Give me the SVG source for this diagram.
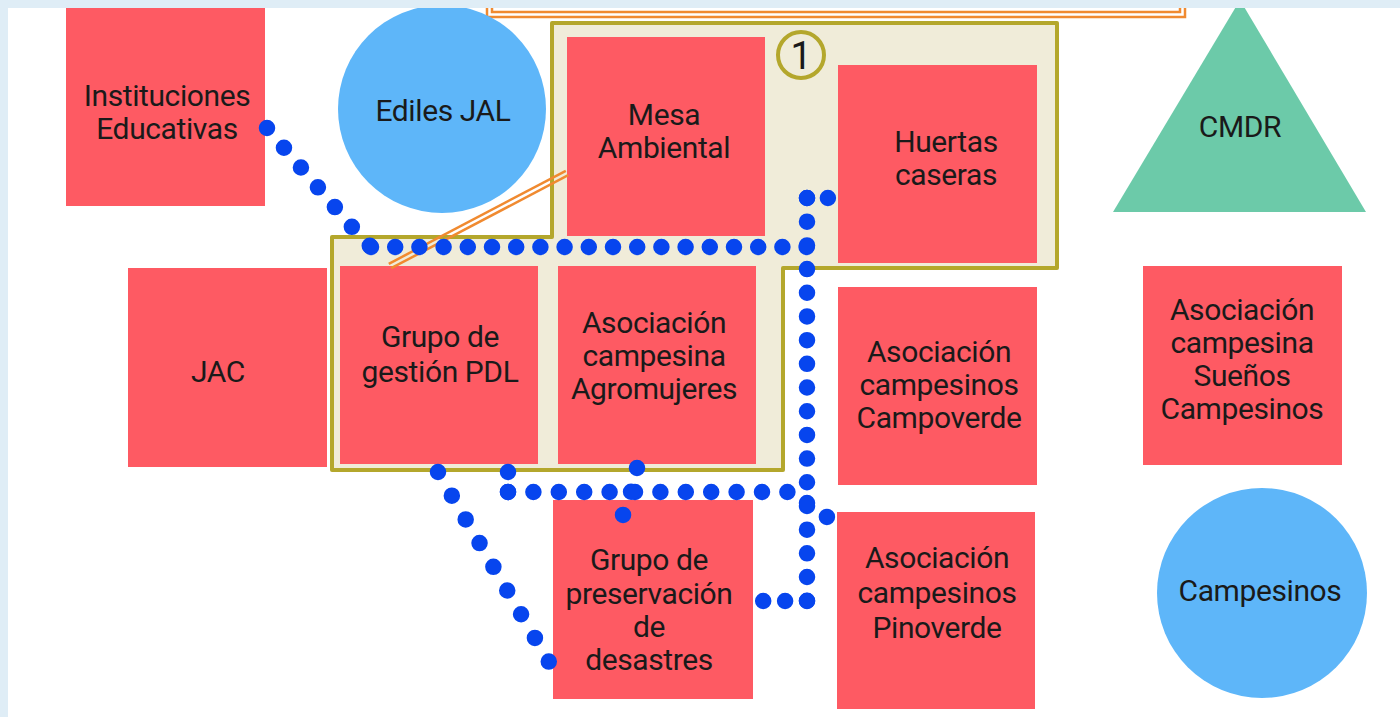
<svg xmlns="http://www.w3.org/2000/svg" width="1400" height="717" viewBox="0 0 1400 717">
<defs>
<style>
.box{fill:#fe5a63}
.circ{fill:#5eb6f9}
.tri{fill:#6ccaa9}
.t{font-family:Roboto,"Liberation Sans",sans-serif;font-size:30px;fill:#1a1a1a;text-anchor:middle;letter-spacing:-0.4px}
.or{fill:none;stroke:#f08a30;stroke-width:2.5}
.dot{fill:none;stroke:#0745ee;stroke-width:16.5;stroke-linecap:round}
</style>
</defs>
<rect x="0" y="0" width="1400" height="717" fill="#ffffff"/>

<g id="frame-top">
<rect x="487" y="-40" width="698" height="57" class="or"/>
<rect x="492" y="-40" width="688" height="52" class="or"/>
</g>

<g id="group1">
<path d="M552,23 L1057,23 L1057,268 L783,268 L783,470 L332,470 L332,237 L552,237 Z" fill="#f0ecd9" stroke="#b4a72c" stroke-width="4" stroke-linejoin="round"/>
<circle cx="801" cy="55" r="23" fill="#f0ecd9" stroke="#b4a72c" stroke-width="4"/>
<text x="801" y="69" class="t" style="font-size:38px">1</text>
</g>

<g id="instituciones">
<rect class="box" x="66" y="0" width="199" height="206"/>
<text class="t" x="167" y="106">Instituciones</text>
<text class="t" x="167" y="139">Educativas</text>
</g>

<g id="ediles">
<circle class="circ" cx="442" cy="109" r="104"/>
<text class="t" x="443" y="121">Ediles JAL</text>
</g>

<g id="mesa">
<rect class="box" x="567" y="37" width="198" height="199"/>
<text class="t" x="664" y="125">Mesa</text>
<text class="t" x="664" y="158">Ambiental</text>
</g>

<g id="huertas">
<rect class="box" x="838" y="65" width="199" height="198"/>
<text class="t" x="946" y="152">Huertas</text>
<text class="t" x="946" y="185">caseras</text>
</g>

<g id="cmdr">
<polygon class="tri" points="1240,0 1366,212 1113,212"/>
<text class="t" x="1240" y="137">CMDR</text>
</g>

<g id="jac">
<rect class="box" x="128" y="268" width="199" height="199"/>
<text class="t" x="218" y="382">JAC</text>
</g>

<g id="pdl">
<rect class="box" x="340" y="266" width="198" height="198"/>
<text class="t" x="440" y="347">Grupo de</text>
<text class="t" x="440" y="382">gestión PDL</text>
</g>

<g id="agromujeres">
<rect class="box" x="558" y="266" width="198" height="198"/>
<text class="t" x="654" y="333">Asociación</text>
<text class="t" x="654" y="366">campesina</text>
<text class="t" x="654" y="399">Agromujeres</text>
</g>

<g id="campoverde">
<rect class="box" x="838" y="287" width="199" height="198"/>
<text class="t" x="939" y="362">Asociación</text>
<text class="t" x="939" y="395">campesinos</text>
<text class="t" x="939" y="428">Campoverde</text>
</g>

<g id="suenos">
<rect class="box" x="1143" y="266" width="199" height="199"/>
<text class="t" x="1242" y="320">Asociación</text>
<text class="t" x="1242" y="353">campesina</text>
<text class="t" x="1242" y="386">Sueños</text>
<text class="t" x="1242" y="419">Campesinos</text>
</g>

<g id="preservacion">
<rect class="box" x="553" y="500" width="200" height="199"/>
<text class="t" x="649" y="570">Grupo de</text>
<text class="t" x="649" y="604">preservación</text>
<text class="t" x="649" y="637">de</text>
<text class="t" x="649" y="670">desastres</text>
</g>

<g id="pinoverde">
<rect class="box" x="837" y="512" width="198" height="197"/>
<text class="t" x="937" y="568">Asociación</text>
<text class="t" x="937" y="603">campesinos</text>
<text class="t" x="937" y="638">Pinoverde</text>
</g>

<g id="campesinos">
<circle class="circ" cx="1262" cy="593" r="105"/>
<text class="t" x="1260" y="601">Campesinos</text>
</g>

<g id="connectors">
<line class="or" x1="568.2" y1="175.2" x2="391.2" y2="268.2"/>
<line class="or" x1="565.8" y1="170.8" x2="388.8" y2="263.8"/>
<path class="dot" d="M267,128 L352,227 L371,247" stroke-dasharray="0 26.05"/>
<path class="dot" d="M371,247 L807,247" stroke-dasharray="0 24.2"/>
<path class="dot" d="M807,198 L828,198" stroke-dasharray="0 20.9"/>
<path class="dot" d="M807,198 L807,601" stroke-dasharray="0 23.69"/>
<path class="dot" d="M807,601 L763,601" stroke-dasharray="0 21.9"/>
<path class="dot" d="M807,503 L827,517" stroke-dasharray="0 24.3"/>
<path class="dot" d="M438,472 L549,662" stroke-dasharray="0 27.45"/>
<path class="dot" d="M508,472 L508,492" stroke-dasharray="0 19.9"/>
<path class="dot" d="M508,492 L788,492" stroke-dasharray="0 25.4"/>
<path class="dot" d="M637,468 L631,492 L623,515" stroke-dasharray="0 24.5"/>
</g>

<g id="border">
<rect x="0" y="0" width="1400" height="8" fill="#dfedf6"/>
<rect x="0" y="0" width="8" height="717" fill="#dfedf6"/>
</g>
</svg>
